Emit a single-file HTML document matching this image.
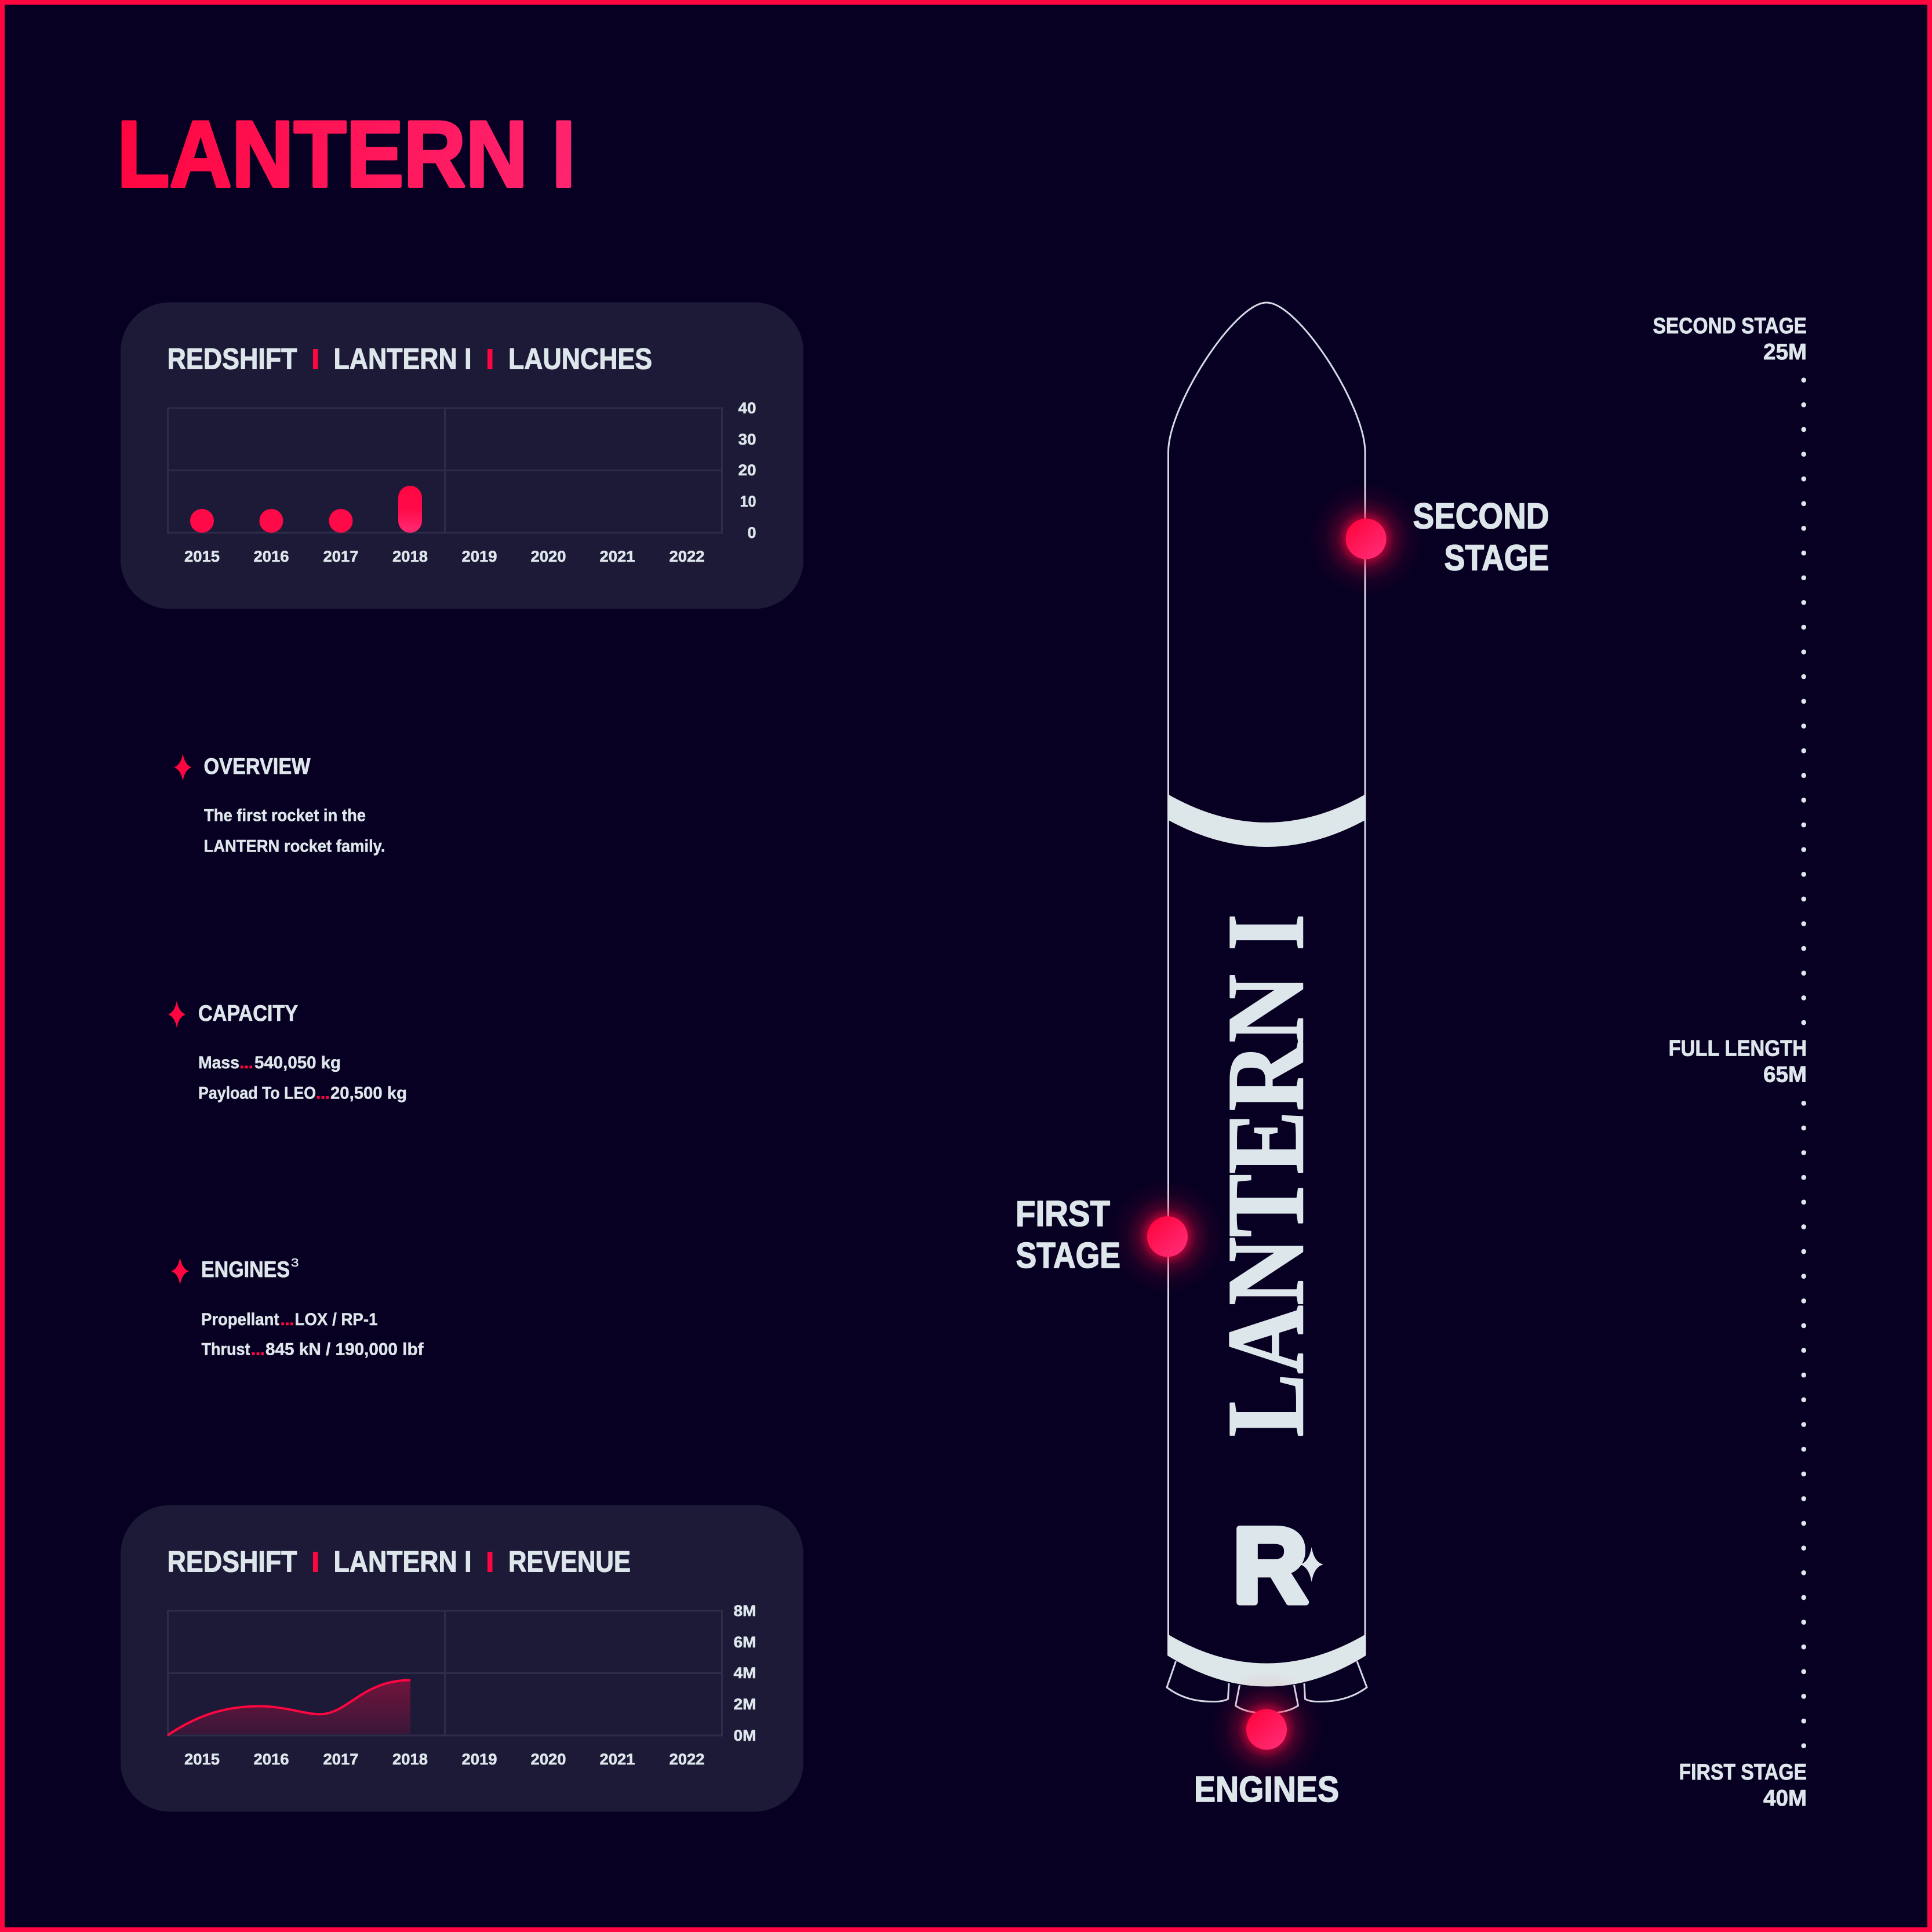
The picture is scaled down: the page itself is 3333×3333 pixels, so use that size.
<!DOCTYPE html>
<html>
<head>
<meta charset="utf-8">
<title>Lantern I</title>
<style>
html,body{margin:0;padding:0;background:#070022;}
svg{display:block;}
text{font-family:"Liberation Sans",sans-serif;font-weight:700;fill:#dde6ea;stroke:#dde6ea;stroke-linejoin:round;}
.h{font-size:51px;stroke-width:1.1;}
.t{font-size:27px;stroke-width:.6;}
.s{font-size:39px;stroke-width:.8;}
.b{font-size:30px;stroke-width:.5;}
.l{font-size:62px;stroke-width:1.6;}
.r{fill:#ff0640;stroke:#ff0640;}
</style>
</head>
<body>
<svg xmlns="http://www.w3.org/2000/svg" width="3333" height="3333" viewBox="0 0 3333 3333">
<defs>
<linearGradient id="tg" gradientUnits="userSpaceOnUse" x1="208" y1="208" x2="985" y2="324"><stop offset="0" stop-color="#ff0640"/><stop offset="1" stop-color="#ff2470"/></linearGradient>
<linearGradient id="dg" x1="0.15" y1="0.1" x2="0.85" y2="0.9"><stop offset="0" stop-color="#ff0640"/><stop offset="1" stop-color="#ff2a74"/></linearGradient>
<linearGradient id="bg" x1="0" y1="0" x2="0" y2="1"><stop offset="0" stop-color="#ff0640"/><stop offset="0.5" stop-color="#ff0a48"/><stop offset="1" stop-color="#ff2a74"/></linearGradient>
<linearGradient id="ag" gradientUnits="userSpaceOnUse" x1="0" y1="2898" x2="0" y2="2994"><stop offset="0" stop-color="#ff0640" stop-opacity="0.38"/><stop offset="1" stop-color="#ff0640" stop-opacity="0.12"/></linearGradient>
<radialGradient id="gl"><stop offset="0.35" stop-color="#ff0640" stop-opacity="0.6"/><stop offset="0.5" stop-color="#ff0640" stop-opacity="0.25"/><stop offset="0.72" stop-color="#ff0640" stop-opacity="0.07"/><stop offset="1" stop-color="#ff0640" stop-opacity="0"/></radialGradient>
<path id="star" d="M0 -23.5Q3.5 -3.5 15.5 0Q3.5 3.5 0 23.5Q-3.5 3.5 -15.5 0Q-3.5 -3.5 0 -23.5Z" fill="#ff0640"/>
<g id="grid" fill="none" stroke="#2f2c4a" stroke-width="3">
<rect x="289.5" y="704" width="956" height="215"/>
<path d="M289.5 811.5H1245.5M767.5 704V919"/>
</g>
<g id="years">
<text class="t" x="348.5" y="969" text-anchor="middle" textLength="61" lengthAdjust="spacingAndGlyphs">2015</text>
<text class="t" x="468" y="969" text-anchor="middle" textLength="61" lengthAdjust="spacingAndGlyphs">2016</text>
<text class="t" x="588" y="969" text-anchor="middle" textLength="61" lengthAdjust="spacingAndGlyphs">2017</text>
<text class="t" x="707.5" y="969" text-anchor="middle" textLength="61" lengthAdjust="spacingAndGlyphs">2018</text>
<text class="t" x="827" y="969" text-anchor="middle" textLength="61" lengthAdjust="spacingAndGlyphs">2019</text>
<text class="t" x="946" y="969" text-anchor="middle" textLength="61" lengthAdjust="spacingAndGlyphs">2020</text>
<text class="t" x="1065" y="969" text-anchor="middle" textLength="61" lengthAdjust="spacingAndGlyphs">2021</text>
<text class="t" x="1185" y="969" text-anchor="middle" textLength="61" lengthAdjust="spacingAndGlyphs">2022</text>
</g>
<g id="head">
<text class="h" x="288.5" y="636.5" textLength="224" lengthAdjust="spacingAndGlyphs">REDSHIFT</text>
<rect x="540" y="602" width="8.5" height="35" fill="#ff0640"/>
<text class="h" x="575.5" y="636.5" textLength="238" lengthAdjust="spacingAndGlyphs">LANTERN I</text>
<rect x="841" y="602" width="8.5" height="35" fill="#ff0640"/>
</g>
</defs>

<rect x="0" y="0" width="3333" height="3333" fill="#ff0640"/>
<rect x="8" y="8" width="3317" height="3317" fill="#070022"/>

<text x="202" y="321.5" font-size="162" textLength="791" lengthAdjust="spacingAndGlyphs" style="fill:url(#tg);stroke:url(#tg);stroke-width:5">LANTERN I</text>

<!-- Launches card -->
<rect x="208" y="521.5" width="1178" height="529" rx="85" ry="85" fill="#1d1a38"/>
<use href="#head"/>
<text class="h" x="877" y="636.5" textLength="248" lengthAdjust="spacingAndGlyphs">LAUNCHES</text>
<use href="#grid"/>
<rect x="328" y="878" width="41" height="41" rx="20.5" fill="#ff0a48"/>
<rect x="447.5" y="878" width="41" height="41" rx="20.5" fill="#ff0a48"/>
<rect x="567.5" y="878" width="41" height="41" rx="20.5" fill="#ff0a48"/>
<rect x="687" y="838" width="41" height="81" rx="20.5" fill="url(#bg)"/>
<text class="t" x="1304.5" y="713" text-anchor="end" textLength="31" lengthAdjust="spacingAndGlyphs">40</text>
<text class="t" x="1304.5" y="767" text-anchor="end" textLength="31" lengthAdjust="spacingAndGlyphs">30</text>
<text class="t" x="1304.5" y="820" text-anchor="end" textLength="31" lengthAdjust="spacingAndGlyphs">20</text>
<text class="t" x="1304.5" y="874" text-anchor="end" textLength="28" lengthAdjust="spacingAndGlyphs">10</text>
<text class="t" x="1304.5" y="928" text-anchor="end" textLength="15" lengthAdjust="spacingAndGlyphs">0</text>
<use href="#years"/>

<!-- Revenue card -->
<rect x="208" y="2596.5" width="1178" height="529" rx="85" ry="85" fill="#1d1a38"/>
<g transform="translate(0,2075)">
<use href="#head"/>
<text class="h" x="877" y="636.5" textLength="211" lengthAdjust="spacingAndGlyphs">REVENUE</text>
<use href="#grid"/>
<use href="#years"/>
<text class="t" x="1304.5" y="713" text-anchor="end" textLength="39" lengthAdjust="spacingAndGlyphs">8M</text>
<text class="t" x="1304.5" y="767" text-anchor="end" textLength="39" lengthAdjust="spacingAndGlyphs">6M</text>
<text class="t" x="1304.5" y="820" text-anchor="end" textLength="39" lengthAdjust="spacingAndGlyphs">4M</text>
<text class="t" x="1304.5" y="874" text-anchor="end" textLength="39" lengthAdjust="spacingAndGlyphs">2M</text>
<text class="t" x="1304.5" y="928" text-anchor="end" textLength="39" lengthAdjust="spacingAndGlyphs">0M</text>
</g>
<path d="M289 2993.6C325 2970 372 2943.5 447 2943.5C492 2943.5 525 2957.3 552 2957.3C600 2957.3 625 2898.5 708 2898.5V2992H289Z" fill="url(#ag)"/>
<path d="M289 2993.6C325 2970 372 2943.5 447 2943.5C492 2943.5 525 2957.3 552 2957.3C600 2957.3 625 2898.5 708 2898.5" fill="none" stroke="#ff0640" stroke-width="4"/>

<!-- Info blocks -->
<use href="#star" x="315.4" y="1323.8"/>
<text class="s" x="351.5" y="1335" textLength="184" lengthAdjust="spacingAndGlyphs">OVERVIEW</text>
<text class="b" x="352" y="1416.5" textLength="279" lengthAdjust="spacingAndGlyphs">The first rocket in the</text>
<text class="b" x="351.5" y="1469.5" textLength="313" lengthAdjust="spacingAndGlyphs">LANTERN rocket family.</text>

<use href="#star" x="305" y="1750"/>
<text class="s" x="342" y="1761" textLength="172" lengthAdjust="spacingAndGlyphs">CAPACITY</text>
<text class="b" x="342" y="1843" textLength="71" lengthAdjust="spacingAndGlyphs">Mass</text>
<text class="b r" x="413" y="1843" textLength="24" lengthAdjust="spacing">...</text>
<text class="b" x="439" y="1843" textLength="149" lengthAdjust="spacingAndGlyphs">540,050 kg</text>
<text class="b" x="342" y="1895.5" textLength="203" lengthAdjust="spacingAndGlyphs">Payload To LEO</text>
<text class="b r" x="545" y="1895.5" textLength="24" lengthAdjust="spacing">...</text>
<text class="b" x="570" y="1895.5" textLength="132" lengthAdjust="spacingAndGlyphs">20,500 kg</text>

<use href="#star" x="310.7" y="2193"/>
<text class="s" x="347" y="2203" textLength="153" lengthAdjust="spacingAndGlyphs">ENGINES</text>
<text x="502" y="2185" font-size="20" textLength="13.5" lengthAdjust="spacingAndGlyphs" style="stroke-width:.4;font-weight:400">3</text>
<text class="b" x="347" y="2286" textLength="134.5" lengthAdjust="spacingAndGlyphs">Propellant</text>
<text class="b r" x="483.5" y="2286" textLength="24" lengthAdjust="spacing">...</text>
<text class="b" x="508.5" y="2286" textLength="143" lengthAdjust="spacingAndGlyphs">LOX / RP-1</text>
<text class="b" x="347.5" y="2337.5" textLength="84" lengthAdjust="spacingAndGlyphs">Thrust</text>
<text class="b r" x="433" y="2337.5" textLength="24" lengthAdjust="spacing">...</text>
<text class="b" x="458" y="2337.5" textLength="272.5" lengthAdjust="spacingAndGlyphs">845 kN / 190,000 lbf</text>

<!-- Rocket -->
<path d="M2015.5 2830V780C2015.5 700 2130 522 2185 522C2240 522 2355 700 2355 780V2830" fill="none" stroke="#d5dbe6" stroke-width="3"/>
<path d="M2014 1369.7Q2185 1468 2356.5 1369.7V1414Q2185 1508 2014 1414Z" fill="#dde6e8"/>
<g fill="none" stroke="#d5dbe6" stroke-width="3">
<path d="M2028.5 2866L2013 2911Q2045 2935.5 2090 2935.5Q2110 2936 2118.5 2931L2120 2904"/>
<path d="M2341 2866L2358 2911Q2325 2935.5 2278 2935.5Q2260 2936 2251.5 2931L2250 2904"/>
<path d="M2138.5 2907L2131.5 2942.5Q2150 2955.5 2185 2955.5Q2220 2955.5 2239.5 2942.5L2232.5 2907"/>
</g>
<path d="M2014 2819Q2185 2920 2356.5 2819V2856Q2185 2963 2014 2856Z" fill="#dde6e8"/>

<text transform="translate(2247,2478.7) rotate(-90)" x="0" y="0" font-size="190" textLength="902" lengthAdjust="spacingAndGlyphs" style="font-family:'Liberation Serif',serif;stroke-width:2.5">LANTERN I</text>

<text x="2126.5" y="2764" font-size="184" textLength="130" lengthAdjust="spacingAndGlyphs" style="stroke-width:11">R</text>
<path d="M2262.7 2669Q2267 2695 2283 2699Q2267 2703 2262.7 2729Q2258 2703 2242.5 2699Q2258 2695 2262.7 2669Z" fill="#dde6ea"/>

<!-- Markers -->
<circle cx="2356.6" cy="929.6" r="100" fill="url(#gl)"/>
<circle cx="2356.6" cy="929.6" r="35" fill="url(#dg)"/>
<circle cx="2014" cy="2133.3" r="100" fill="url(#gl)"/>
<circle cx="2014" cy="2133.3" r="35" fill="url(#dg)"/>
<circle cx="2185" cy="2983.6" r="100" fill="url(#gl)"/>
<circle cx="2185" cy="2983.6" r="35" fill="url(#dg)"/>

<text class="l" x="2672.5" y="911.5" text-anchor="end" textLength="235" lengthAdjust="spacingAndGlyphs">SECOND</text>
<text class="l" x="2672.5" y="983.5" text-anchor="end" textLength="181" lengthAdjust="spacingAndGlyphs">STAGE</text>
<text class="l" x="1752" y="2115" textLength="163" lengthAdjust="spacingAndGlyphs">FIRST</text>
<text class="l" x="1752.5" y="2187" textLength="180.5" lengthAdjust="spacingAndGlyphs">STAGE</text>
<text class="l" x="2060" y="3108" textLength="250" lengthAdjust="spacingAndGlyphs">ENGINES</text>

<!-- Scale -->
<g stroke="#dde6ea" stroke-width="8.6" stroke-linecap="round" stroke-dasharray="0 42.63" fill="none">
<path d="M3111.7 655.7V1764.5"/>
<path d="M3111.7 1903.3V3012"/>
</g>
<text class="s" x="3117" y="575" text-anchor="end" textLength="265.5" lengthAdjust="spacingAndGlyphs">SECOND STAGE</text>
<text class="s" x="3117" y="620" text-anchor="end" textLength="75" lengthAdjust="spacingAndGlyphs">25M</text>
<text class="s" x="3117" y="1821.7" text-anchor="end" textLength="238.5" lengthAdjust="spacingAndGlyphs">FULL LENGTH</text>
<text class="s" x="3117" y="1866.7" text-anchor="end" textLength="75" lengthAdjust="spacingAndGlyphs">65M</text>
<text class="s" x="3117" y="3070" text-anchor="end" textLength="220.5" lengthAdjust="spacingAndGlyphs">FIRST STAGE</text>
<text class="s" x="3117" y="3115" text-anchor="end" textLength="75" lengthAdjust="spacingAndGlyphs">40M</text>
</svg>
</body>
</html>
